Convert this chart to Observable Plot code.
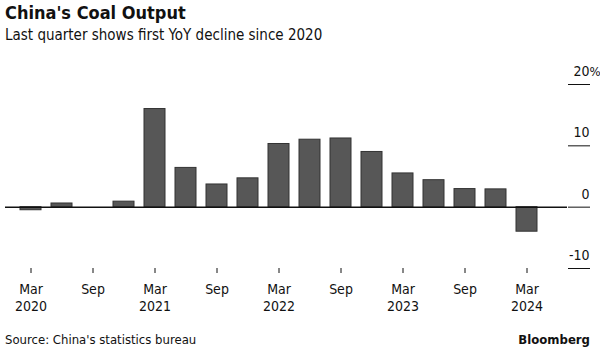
<!DOCTYPE html>
<html>
<head>
<meta charset="utf-8">
<script src="https://cdn.jsdelivr.net/npm/d3@7"></script>
<script src="https://cdn.jsdelivr.net/npm/@observablehq/plot@0.6"></script>
<style>
  html, body { margin: 0; padding: 0; background: #fff; }
  body { width: 600px; height: 350px; overflow: hidden; font-family: "DejaVu Sans Condensed", "DejaVu Sans", sans-serif; color: #111; position: relative; }
  #title { position: absolute; left: 5px; top: 2px; font-size: 18px; font-weight: bold; }
  #subtitle { position: absolute; left: 5px; top: 26px; font-size: 15px; }
  #chart { position: absolute; left: 0; top: 50px; }
  #source { position: absolute; left: 5px; top: 332px; font-size: 13px; }
  #brand { position: absolute; right: 10px; top: 332px; font-size: 13px; font-weight: bold; }
</style>
</head>
<body>
<div id="title">China's Coal Output</div>
<div id="subtitle">Last quarter shows first YoY decline since 2020</div>
<div id="chart"></div>
<div id="source">Source: China's statistics bureau</div>
<div id="brand">Bloomberg</div>
<script>
const quarters = ["2020-03","2020-06","2020-09","2020-12","2021-03","2021-06","2021-09","2021-12","2022-03","2022-06","2022-09","2022-12","2023-03","2023-06","2023-09","2023-12","2024-03"];
const yoy = [-0.5, 0.6, 0, 0.9, 16.0, 6.4, 3.7, 4.7, 10.3, 11.0, 11.2, 9.0, 5.5, 4.4, 2.95, 2.9, -4.0];
const yTicks = [-10, 0, 10, 20];
const monthNames = {"03": "Mar", "09": "Sep"};

const data = quarters.map((q, i) => ({q, v: yoy[i]}));
const xTicks = quarters.filter(q => q.endsWith("-03") || q.endsWith("-09"));
const fmtX = q => {
  const [y, m] = q.split("-");
  return m === "03" ? `${monthNames[m]}\n${y}` : monthNames[m];
};

const chart = Plot.plot({
  width: 600,
  height: 270,
  marginLeft: 5,
  marginRight: 33,
  marginTop: 34,
  marginBottom: 52,
  style: {fontFamily: "'DejaVu Sans Condensed', 'DejaVu Sans', sans-serif", fontSize: "13px", color: "#111", background: "transparent"},
  x: {domain: quarters, paddingInner: 0.31, paddingOuter: 0, insetLeft: 14, insetRight: 29, label: null},
  y: {domain: [-10, 20], label: null},
  marks: [
    Plot.barY(data, {x: "q", y: "v", fill: "#575757", stroke: "#333", strokeWidth: 1}),
    Plot.ruleY([0], {stroke: "#111", strokeWidth: 1.5}),
    Plot.axisY(yTicks, {anchor: "right", tickSize: 22, tickFormat: () => "", stroke: "#111", label: null}),
    Plot.axisY(yTicks, {anchor: "right", tickSize: 0, tickPadding: 22, textAnchor: "end", dy: -13, tickFormat: d => d, fontSize: 14, fill: "#111", label: null}),
    Plot.text([20], {y: d => d, frameAnchor: "right", dx: 22, dy: -13, text: () => "%", textAnchor: "start", fontSize: 13, fill: "#111"}),
    Plot.axisX(xTicks, {anchor: "bottom", tickSize: 5, tickPadding: 8, tickFormat: fmtX, lineHeight: 1.22, fontSize: 14, stroke: "#111", label: null})
  ]
});
document.getElementById("chart").appendChild(chart);
</script>
</body>
</html>
